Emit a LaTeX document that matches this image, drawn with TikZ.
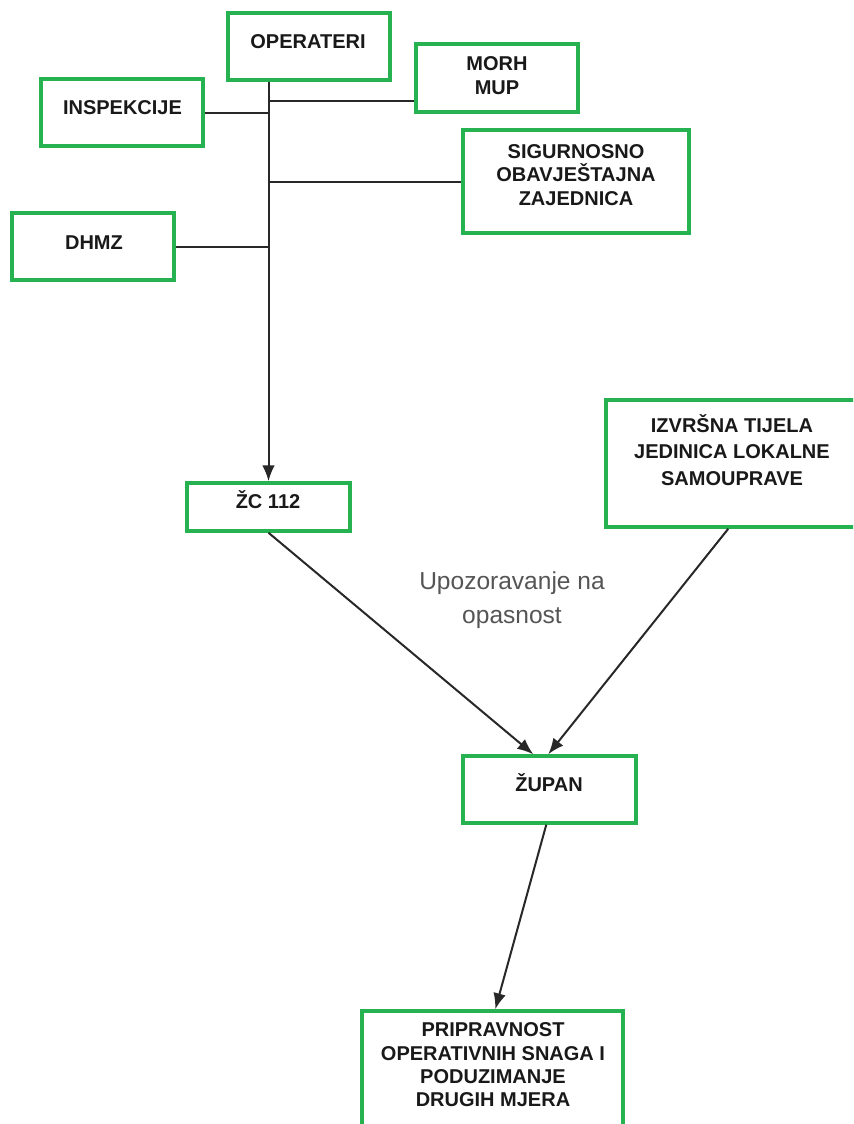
\documentclass[tikz,border=0pt]{standalone}
\usepackage{fontspec}
\setmainfont{Liberation Sans}
\usetikzlibrary{arrows.meta,calc}
\definecolor{boxgreen}{RGB}{38,178,80}
\definecolor{linegray}{RGB}{40,40,40}
\definecolor{notegray}{RGB}{85,85,85}
\begin{document}
\begin{tikzpicture}[x=0.75pt,y=-0.75pt,
  box/.style={draw=boxgreen, line width=2.6pt, fill=white, inner sep=0pt},
  lbl/.style={font=\fontsize{15}{17.5}\selectfont\bfseries, align=center, inner sep=0pt, text=black!90},
  conn/.style={draw=linegray, line width=1.5pt},
  arr/.style={conn, -{Latex[length=12pt,width=9.5pt]}},
  note/.style={font=\fontsize{18.4}{25.5}\selectfont, align=center, inner sep=0pt, text=notegray}
]
\clip (0,0) rectangle (853,1124);
\fill[white] (0,0) rectangle (853,1124);

% boxes
\node[box, minimum width=121.5pt, minimum height=50.25pt] (op) at (309,46.5) {};
\node[box, minimum width=121.5pt, minimum height=51pt] (morh) at (497,78) {};
\node[box, minimum width=121.5pt, minimum height=50.25pt] (insp) at (122,112.5) {};
\node[box, minimum width=169.5pt, minimum height=77.25pt] (sig) at (576,181.5) {};
\node[box, minimum width=121.5pt, minimum height=50.25pt] (dhmz) at (93,246.5) {};
\node[box, minimum width=122.25pt, minimum height=36pt] (zc) at (268.5,507) {};
\node[box, minimum width=205.5pt, minimum height=95.25pt] (izv) at (743,463.5) {};
\node[box, minimum width=129.75pt, minimum height=50.25pt] (zup) at (549.5,789.5) {};
\node[box, minimum width=195.75pt, minimum height=111.75pt] (prip) at (492.5,1085.5) {};

% attachment points
\coordinate (morhin) at ($(morh.south west)+(0,-12.5)$);
\coordinate (zupinL) at ($(zup.north west)+(72,0)$);
\coordinate (zupinR) at ($(zup.north west)+(87,0)$);
\coordinate (izvout) at ($(izv.south west)+(124,0)$);
\coordinate (zupout) at ($(zup.south west)+(85,0)$);
\coordinate (pripin) at ($(prip.north west)+(135,0)$);

% connectors
\draw[arr] (zc.north |- op.south) -- (zc.north);
\draw[conn] (insp.east) -- (insp.east -| zc.north);
\draw[conn] (morhin) -- (morhin -| zc.north);
\draw[conn] (sig.west) -- (sig.west -| zc.north);
\draw[conn] (dhmz.east) -- (dhmz.east -| zc.north);
\draw[arr] (zc.south) -- (zupinL);
\draw[arr] (izvout) -- (zupinR);
\draw[arr] (zupout) -- (pripin);

% labels
\node[lbl] (opt) at (308,42) {OPERATERI};
\node[lbl] (morht) at (497,75.5) {MORH\\MUP};
\node[lbl] (inspt) at (122.5,108) {INSPEKCIJE};
\node[lbl] (sigt) at (576,175) {SIGURNOSNO\\OBAVJEŠTAJNA\\ZAJEDNICA};
\node[lbl] (dhmzt) at (94,243) {DHMZ};
\node[lbl, text height=0.72em, text depth=0pt] (zct) at (268,504) {ŽC 112};
\node[lbl, font=\fontsize{15}{19.9}\selectfont\bfseries] (izvt) at (732,450) {IZVRŠNA TIJELA\\JEDINICA LOKALNE\\SAMOUPRAVE};
\node[lbl, text height=0.72em, text depth=0pt] (zupt) at (549,787) {ŽUPAN};
\node[lbl] (pript) at (493,1065) {PRIPRAVNOST\\OPERATIVNIH SNAGA I\\PODUZIMANJE\\DRUGIH MJERA};
\node[note] (warn) at (512,600) {Upozoravanje na\\opasnost};
\end{tikzpicture}
\end{document}
